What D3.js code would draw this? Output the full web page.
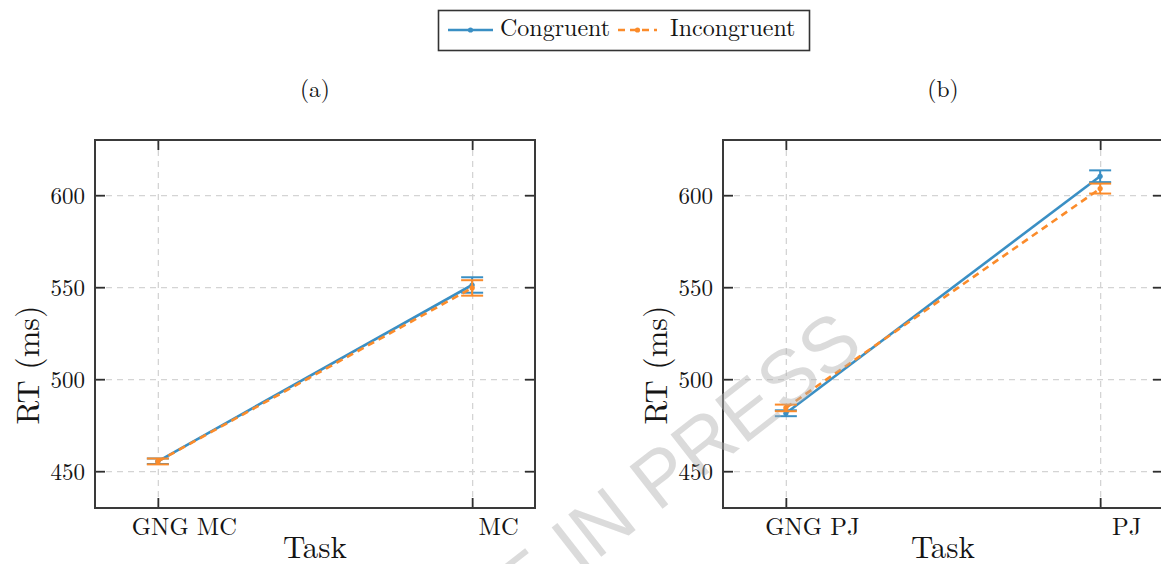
<!DOCTYPE html>
<html>
<head>
<meta charset="utf-8">
<script src="https://cdn.jsdelivr.net/npm/d3@7"></script>
<style>
  html, body { margin: 0; padding: 0; background: #fff; }
  svg { display: block; }
  text { font-family: "Latin Modern Roman", "Liberation Serif", serif; fill: #151515; }
</style>
</head>
<body>
<svg id="chart" width="1161" height="564"></svg>
<script>
// ---- data ----
const seriesNames = ["Congruent", "Incongruent"];
const panelTitles = ["(a)", "(b)"];
const categoriesA = ["GNG MC", "MC"];
const categoriesB = ["GNG PJ", "PJ"];
const congruentA = [455.4, 551.2];
const congruentErrA = [1.5, 4.2];
const incongruentA = [455.3, 549.6];
const incongruentErrA = [1.6, 4.2];
const congruentB = [481.5, 610.3];
const congruentErrB = [1.6, 3.2];
const incongruentB = [484.4, 603.6];
const incongruentErrB = [1.8, 2.7];
const yTicks = [450, 500, 550, 600];
const yDomain = [430, 630];
const yLabel = "RT (ms)";
const xLabel = "Task";
const watermark = "ARTICLE IN PRESS";

const colors = ["#3a8fc4", "#fb8b2a"];
const dashes = [null, "7,5"];

const svg = d3.select("#chart");

const panels = [
  { left: 95, title: panelTitles[0], cats: categoriesA,
    series: [{v: congruentA, e: congruentErrA}, {v: incongruentA, e: incongruentErrA}] },
  { left: 723, title: panelTitles[1], cats: categoriesB,
    series: [{v: congruentB, e: congruentErrB}, {v: incongruentB, e: incongruentErrB}] }
];
const plotTop = 140, plotBottom = 508, pw = 440;

panels.forEach(p => {
  const g = svg.append("g");
  const x = d3.scalePoint().domain(p.cats).range([p.left, p.left + pw]).padding(0.2);
  const y = d3.scaleLinear().domain(yDomain).range([plotBottom, plotTop]);

  // grid
  g.append("g").attr("transform", `translate(${p.left},0)`)
    .call(d3.axisLeft(y).tickValues(yTicks).tickSize(-pw).tickFormat(""))
    .call(a => a.select(".domain").remove())
    .call(a => a.selectAll("line").attr("stroke", "#d4d4d4").attr("stroke-width", 1.3).attr("stroke-dasharray", "6,5"));
  g.append("g").attr("transform", `translate(0,${plotBottom})`)
    .call(d3.axisBottom(x).tickSize(-(plotBottom - plotTop)).tickFormat(""))
    .call(a => a.select(".domain").remove())
    .call(a => a.selectAll("line").attr("stroke", "#d4d4d4").attr("stroke-width", 1.3).attr("stroke-dasharray", "6,5"));

  // inward ticks
  const tickStyle = a => { a.select(".domain").remove(); a.selectAll("line").attr("stroke", "#2e2e2e").attr("stroke-width", 1.8); };
  g.append("g").attr("transform", `translate(${p.left},0)`)
    .call(d3.axisLeft(y).tickValues(yTicks).tickSizeInner(-10).tickSizeOuter(0))
    .call(tickStyle)
    .call(a => a.selectAll("text").attr("font-size", 23).attr("x", -10).attr("dy", "0.34em").attr("font-family", null).style("fill", "#151515"));
  g.append("g").attr("transform", `translate(${p.left + pw},0)`)
    .call(d3.axisRight(y).tickValues(yTicks).tickSizeInner(-10).tickSizeOuter(0).tickFormat(""))
    .call(tickStyle);
  g.append("g").attr("transform", `translate(0,${plotBottom})`)
    .call(d3.axisBottom(x).tickSizeInner(-10).tickSizeOuter(0))
    .call(tickStyle)
    .call(a => a.selectAll("text").attr("font-size", 24.5).attr("y", 27).attr("dy", 0).attr("dx", 26)
      .attr("font-family", null).style("fill", "#151515"));
  g.append("g").attr("transform", `translate(0,${plotTop})`)
    .call(d3.axisTop(x).tickSizeInner(-10).tickSizeOuter(0).tickFormat(""))
    .call(tickStyle);

  // frame
  g.append("rect").attr("x", p.left).attr("y", plotTop).attr("width", pw).attr("height", plotBottom - plotTop)
    .attr("fill", "none").attr("stroke", "#3a3a3a").attr("stroke-width", 2);

  // series
  p.series.forEach((s, i) => {
    const pts = p.cats.map((c, j) => ({c, v: s.v[j], e: s.e[j]}));
    const line = d3.line().x(d => x(d.c)).y(d => y(d.v));
    g.append("path").datum(pts).attr("d", line).attr("fill", "none")
      .attr("stroke", colors[i]).attr("stroke-width", 2.6)
      .attr("stroke-dasharray", dashes[i]);
    const eb = g.append("g").attr("stroke", colors[i]).attr("stroke-width", 2);
    pts.forEach(d => {
      eb.append("line").attr("x1", x(d.c)).attr("x2", x(d.c)).attr("y1", y(d.v - d.e)).attr("y2", y(d.v + d.e));
      [d.v - d.e, d.v + d.e].forEach(v => eb.append("line").attr("x1", x(d.c) - 11).attr("x2", x(d.c) + 11).attr("y1", y(v)).attr("y2", y(v)));
    });
    g.selectAll(null).data(pts).enter().append("circle")
      .attr("cx", d => x(d.c)).attr("cy", d => y(d.v)).attr("r", 2.6).attr("fill", colors[i]);
  });

  // title
  g.append("text").attr("x", p.left + pw / 2).attr("y", 97).attr("text-anchor", "middle")
    .attr("font-size", 23.5).text(p.title);
  // axis labels
  g.append("text").attr("transform", `translate(${p.left - 56},365) rotate(-90)`).attr("text-anchor", "middle")
    .attr("font-size", 32).text(yLabel);
  g.append("text").attr("x", p.left + pw / 2).attr("y", 558).attr("text-anchor", "middle")
    .attr("font-size", 31).text(xLabel);
});

// legend
const lg = svg.append("g");
lg.append("rect").attr("x", 438.5).attr("y", 10.5).attr("width", 371).attr("height", 40)
  .attr("fill", "#fff").attr("stroke", "#333").attr("stroke-width", 1.6);
const legendItems = [
  { x0: 448, x1: 493, tx: 500 },
  { x0: 618, x1: 657, tx: 670 }
];
seriesNames.forEach((name, i) => {
  const it = legendItems[i];
  lg.append("line").attr("x1", it.x0).attr("x2", it.x1).attr("y1", 30).attr("y2", 30)
    .attr("stroke", colors[i]).attr("stroke-width", 2.6).attr("stroke-dasharray", dashes[i]);
  lg.append("circle").attr("cx", (it.x0 + it.x1) / 2).attr("cy", 30).attr("r", 2.6).attr("fill", colors[i]);
  lg.append("text").attr("x", it.tx).attr("y", 36).attr("font-size", 24).text(name);
});

// watermark
svg.append("text").attr("transform", "translate(866,350) rotate(-38)")
  .attr("text-anchor", "end").attr("font-size", 78)
  .style("font-family", "'Liberation Sans', Arial, sans-serif")
  .style("fill", "#b0b0b0").style("fill-opacity", 0.45)
  .text(watermark);
</script>
</body>
</html>
